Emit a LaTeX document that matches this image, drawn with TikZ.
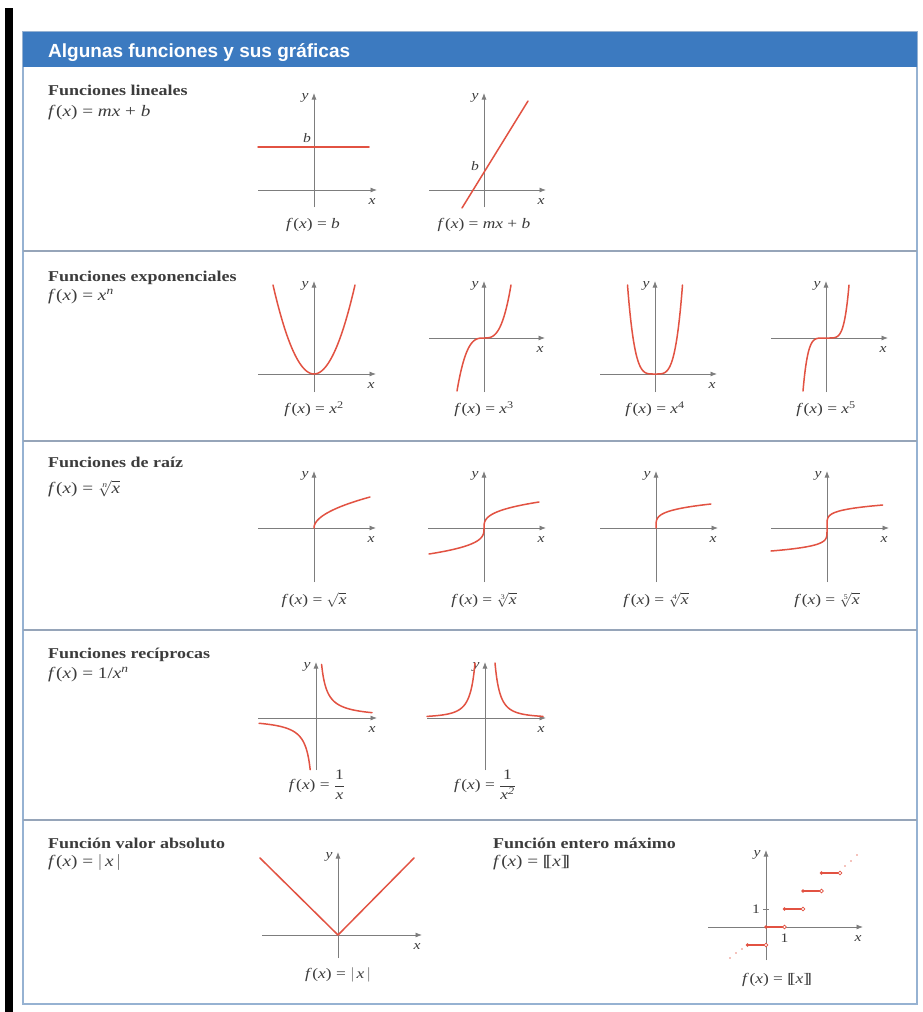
\RequirePackage{fix-cm}
\documentclass[tikz,border=0pt]{standalone}
\usepackage{fontspec}
\setmainfont{Liberation Serif}[FakeStretch=1.2]
\newfontfamily\hdrfont{Liberation Sans}
\usetikzlibrary{arrows.meta}
\definecolor{hdrblue}{RGB}{60,122,192}
\definecolor{boxline}{RGB}{150,178,210}
\definecolor{divline}{RGB}{150,165,185}
\definecolor{axisgray}{RGB}{125,125,125}
\definecolor{curvered}{RGB}{226,82,66}
\definecolor{txtgray}{RGB}{60,60,60}
\newcommand{\fxeq}{\textit{f}\kern0.5pt(\textit{x})\hspace{0.3em}=\hspace{0.3em}}
\newcommand{\grfaxes}[5]{%
  \draw[axisline] (#2,0) -- (#3,0);
  \draw[axisline] (0,#4) -- (0,#5);
  \node[axlbl] (#1y) at (-9,#5-5) {y};
  \node[axlbl] (#1x) at (#3-5,-12) {x};
}
\tikzset{
  axisline/.style={draw=axisgray, line width=0.8pt, -{Latex[length=6.5pt,width=5pt]}},
  curve/.style={draw=curvered, line width=1.5pt, line cap=round},
  ttl/.style={anchor=base west, font=\fontsize{15}{17}\selectfont\bfseries, text=txtgray, inner sep=0pt},
  frm/.style={anchor=base west, font=\fontsize{16}{18}\selectfont, text=txtgray, inner sep=0pt},
  capt/.style={font=\fontsize{14.5}{17}\selectfont, text=txtgray, inner sep=0pt},
  axlbl/.style={font=\fontsize{13}{15}\selectfont\itshape, text=txtgray, inner sep=0pt},
}
\begin{document}
\begin{tikzpicture}[x=1pt,y=-1pt]
\fill[white] (0,0) rectangle (922,1012);
\useasboundingbox (0,0) rectangle (922,1012);
% black bar
\fill[black] (5,8) rectangle (13,1012);
% frame and header
\draw[boxline, line width=2pt] (23,32) rectangle (917,1004);
\fill[hdrblue] (23,32) rectangle (917,67);
\node[anchor=base west, inner sep=0pt, text=white, font=\hdrfont\fontsize{19}{21}\selectfont\bfseries] (hdr) at (48,57) {Algunas funciones y sus gráficas};
\foreach \yy in {251,441,630,820} \draw[divline, line width=2pt] (23,\yy) -- (917,\yy);

% ---------- Section 1
\node[ttl] (t1) at (48,95) {Funciones lineales};
\node[frm] (f1) at (48,116) {\fxeq\textit{mx} + \textit{b}};
\begin{scope}[shift={(314,190)}, yscale=-1]
  \grfaxes{a1}{-56}{63}{-17}{97}
  \draw[curve] (-56,43) -- (55,43);
  \node[axlbl] (a1b) at (-7,52) {b};
\end{scope}
\node[capt] (c11) at (313,225) {\fxeq\textit{b}};
\begin{scope}[shift={(484,190)}, yscale=-1]
  \grfaxes{a2}{-55}{62}{-17}{97}
  \draw[curve] (-22,-18) -- (44,89);
  \node[axlbl] (a2b) at (-9,24) {b};
\end{scope}
\node[capt] (c12) at (484,225) {\fxeq\textit{mx} + \textit{b}};

% ---------- Section 2
\node[ttl] (t2) at (48,281) {Funciones exponenciales};
\node[frm] (f2) at (48,300) {\fxeq\textit{x}\textsuperscript{\itshape n}};
\begin{scope}[shift={(314,374)}, yscale=-1]
  \grfaxes{b1}{-56}{62}{-18}{93}
  \draw[curve] plot[domain=-41:41, samples=60, smooth] (\x,{89*(\x/41)^2});
\end{scope}
\node[capt] (c21) at (314,409) {\fxeq\textit{x}\textsuperscript{2}};
\begin{scope}[shift={(484,338)}, yscale=-1]
  \grfaxes{b2}{-55}{61}{-54}{57}
  \draw[curve] plot[domain=-27:27, samples=60, smooth] (\x,{53*(\x/27)^3});
\end{scope}
\node[capt] (c22) at (484,409) {\fxeq\textit{x}\textsuperscript{3}};
\begin{scope}[shift={(655,374)}, yscale=-1]
  \grfaxes{b3}{-55}{62}{-18}{93}
  \draw[curve] plot[domain=-27.5:27.5, samples=80, smooth] (\x,{89*(\x/27.5)^4});
\end{scope}
\node[capt] (c23) at (655,409) {\fxeq\textit{x}\textsuperscript{4}};
\begin{scope}[shift={(826,338)}, yscale=-1]
  \grfaxes{b4}{-55}{62}{-54}{57}
  \draw[curve] plot[domain=-1:1, samples=80, smooth] ({23*\x},{53*\x^5});
\end{scope}
\node[capt] (c24) at (826,409) {\fxeq\textit{x}\textsuperscript{5}};

% ---------- Section 3
\node[ttl] (t3) at (48,467) {Funciones de raíz};
\node[frm, text height=11pt, text depth=3pt] (f3) at (48,493) {\fxeq$\sqrt[\mbox{\fontsize{8}{8}\selectfont\itshape n}]{\mbox{\itshape x}}$};
\begin{scope}[shift={(314,528)}, yscale=-1]
  \grfaxes{r1}{-56}{62}{-54}{57}
  \draw[curve] plot[domain=0:1, samples=60, smooth] ({56*\x^2},{31*\x});
\end{scope}
\node[capt] (c31) at (314,600) {\fxeq$\sqrt{\mbox{\itshape x}}$};
\begin{scope}[shift={(484,528)}, yscale=-1]
  \grfaxes{r2}{-56}{62}{-54}{57}
  \draw[curve] plot[domain=-1:1, samples=80, smooth] ({55*\x^3},{26*\x});
\end{scope}
\node[capt] (c32) at (484,600) {\fxeq$\sqrt[\mbox{\fontsize{7}{7}\selectfont 3}]{\mbox{\itshape x}}$};
\begin{scope}[shift={(656,528)}, yscale=-1]
  \grfaxes{r3}{-56}{62}{-54}{57}
  \draw[curve] plot[domain=0:1, samples=60, smooth] ({55*\x^4},{24*\x});
\end{scope}
\node[capt] (c33) at (656,600) {\fxeq$\sqrt[\mbox{\fontsize{7}{7}\selectfont 4}]{\mbox{\itshape x}}$};
\begin{scope}[shift={(827,528)}, yscale=-1]
  \grfaxes{r4}{-56}{62}{-54}{57}
  \draw[curve] plot[domain=-1:1, samples=100, smooth] ({56*\x^5},{23*\x});
\end{scope}
\node[capt] (c34) at (827,600) {\fxeq$\sqrt[\mbox{\fontsize{7}{7}\selectfont 5}]{\mbox{\itshape x}}$};

% ---------- Section 4
\node[ttl] (t4) at (48,658) {Funciones recíprocas};
\node[frm] (f4) at (48,678) {\fxeq1/\textit{x}\textsuperscript{\itshape n}};
\begin{scope}[shift={(316,718)}, yscale=-1]
  \grfaxes{q1}{-58}{61}{-52}{56}
  \draw[curve] plot[domain=5.6:56, samples=60, smooth] (\x,{300/\x});
  \draw[curve] plot[domain=-57:-5.8, samples=60, smooth] (\x,{300/\x});
\end{scope}
\node[capt] (c41) at (317,785) {\fxeq$\displaystyle\frac{\mbox{1}}{\mbox{\itshape x}}$};
\begin{scope}[shift={(485,718)}, yscale=-1]
  \grfaxes{q2}{-58}{61}{-52}{56}
  \draw[curve] plot[domain=10:58, samples=60, smooth] (\x,{5500/(\x*\x)});
  \draw[curve] plot[domain=-58:-10, samples=60, smooth] (\x,{5500/(\x*\x)});
\end{scope}
\node[capt] (c42) at (485,785) {\fxeq$\displaystyle\frac{\mbox{1}}{\mbox{\itshape x\textsuperscript{2}}}$};

% ---------- Section 5
\node[ttl] (t5) at (48,848) {Función valor absoluto};
\node[frm] (f5) at (48,866) {\fxeq$|$\,\textit{x}\,$|$};
\begin{scope}[shift={(338,935)}, yscale=-1]
  \grfaxes{v1}{-76}{84}{-23}{83}
  \draw[curve, line join=round] (-78,77) -- (0,0) -- (76,77);
\end{scope}
\node[capt] (c51) at (338,975) {\fxeq$|$\,\textit{x}\,$|$};

\node[ttl] (t6) at (493,848) {Función entero máximo};
\node[frm] (f6) at (493,866) {\fxeq[\kern-0.22em[\textit{x}]\kern-0.22em]};
\begin{scope}[shift={(766,927)}, yscale=-1]
  \grfaxes{w1}{-58}{97}{-33}{77}
  \draw[axisgray, line width=0.8pt] (-3,18) -- (3,18);
  \node[capt, font=\fontsize{13}{15}\selectfont] (w1t1) at (-10,18) {1};
  \node[capt, font=\fontsize{13}{15}\selectfont] (w1t2) at (18.5,-11) {1};
  \foreach \n in {-1,0,1,2,3}{
    \draw[curvered, line width=1.3pt] ({\n*18.5},{\n*18}) -- ({(\n+1)*18.5-2},{\n*18});
    \fill[curvered] ({\n*18.5},{\n*18}) circle (1.9);
    \draw[curvered, line width=0.8pt, fill=white] ({(\n+1)*18.5},{\n*18}) circle (1.9);
  }
  \foreach \px/\py in {79/61, 85/66, 91/72, -36/-31, -30/-26, -24/-22}
    \fill[curvered!70] (\px,\py) circle (0.9);
\end{scope}
\node[capt] (c52) at (777,980) {\fxeq[\kern-0.22em[\textit{x}]\kern-0.22em]};
\end{tikzpicture}
\end{document}
